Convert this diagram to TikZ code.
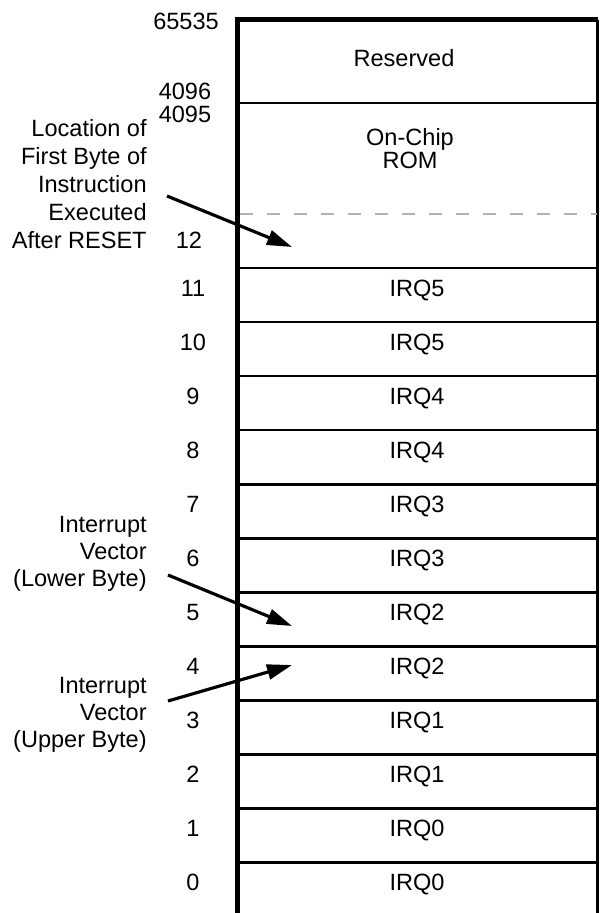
\documentclass[tikz,border=0pt]{standalone}
\usepackage{fontspec}
\setmainfont{Liberation Sans}
\usetikzlibrary{arrows.meta}
\tikzset{every node/.style={font=\fontsize{13.4pt}{15.9pt}\selectfont, inner sep=0pt},
 lbl/.style={text height=9.6pt, text depth=0pt},
 note/.style={align=right, anchor=east},
 edgeline/.style={line width=2.8pt},
 cellline/.style={line width=1.7pt},
 ptr/.style={line width=1.8pt, -{Triangle[length=0.5cm, width=0.3cm]}},
 }

\begin{document}
\begin{tikzpicture}[x=0.02cm, y=-0.02cm]
        \useasboundingbox (0,0) rectangle (599,913);
        \draw[edgeline] (237.5,17) -- (237.5,920);
        \draw[edgeline] (236,19.5) -- (598,19.5);
        \draw[cellline] (597,19.5) -- (597,920);
        \foreach \y in {103,268,322,...,916} {
            \draw[cellline] (237.5,\y) -- (597,\y);
        }
        \draw[gray!60, line width=0.6pt, dash pattern=on 0.26cm off 0.28cm] (240,214) -- (597,214);

        \node[lbl] (top) at (186,21) {65535};
        \node[lbl] (resv) at (404,58) {Reserved};
        \node[lbl] (hi) at (185,91) {4096};
        \node[lbl] (lo) at (185,114) {4095};
        \node[align=center, font=\fontsize{13.4pt}{13pt}\selectfont] (rom) at (410,148.5) {On-Chip\\ROM};
        \node[lbl] (a12) at (189,240) {12};
        \foreach \a in {0,...,11} {
            \pgfmathsetmacro\yt{288+54*(11-\a)}
            \pgfmathtruncatemacro\q{\a/2}
            \node[lbl] (addr\a) at (193,\yt) {\a};
            \node[lbl] (irq\a) at (417,\yt) {IRQ\q};
        }

        \node[note] (reset) at (147,184) {Location of\\First Byte of\\Instruction\\Executed\\After RESET};
        \node[note, font=\fontsize{13.4pt}{15.3pt}\selectfont] (lowvec) at (147,553.5) {Interrupt\\Vector\\(Lower Byte)};
        \node[note, font=\fontsize{13.4pt}{15.3pt}\selectfont] (upvec) at (147,715) {Interrupt\\Vector\\(Upper Byte)};

        \coordinate (resettail) at (167,196);
        \coordinate (resettip) at (292,247);
        \coordinate (lowtail) at (168,575);
        \coordinate (lowtip) at (292,626);
        \coordinate (uptail) at (168,701);
        \coordinate (uptip) at (292,665);
        \draw[ptr] (resettail) -- (resettip);
        \draw[ptr] (lowtail) -- (lowtip);
        \draw[ptr] (uptail) -- (uptip);
    \end{tikzpicture}
\end{document}
